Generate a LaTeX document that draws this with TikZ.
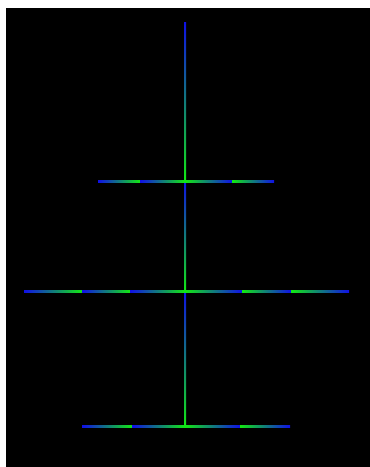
\documentclass[tikz,border=0pt]{standalone}
\usepackage{xcolor}
\usepackage{tikz}
\usetikzlibrary{calc}
\definecolor{treeblue}{HTML}{1010E6}
\definecolor{treegreen}{HTML}{12E812}
\definecolor{treebg}{HTML}{000000}

\begin{document}
\begin{tikzpicture}[x=1pt, y=-1pt]
  \useasboundingbox (0,0) rectangle (370,467);
  \fill[white] (0,0) rectangle (370,467);
  \fill[treebg] (6,8) rectangle (370,467);
  % trunk, blue at top -> green at bottom
  \foreach \ya/\yb in {22/181,181/291,291/426}
    \shade[top color=treeblue, bottom color=treegreen] (184,\ya) rectangle (186,\yb);
  % left branches, blue outside -> green inside
  \foreach \y/\xa/\xb in {181/98/140,181/140/185,291/24/82,291/82/130,291/130/185,426/82/132,426/132/185}
    \shade[left color=treeblue, right color=treegreen] (\xa,\y-1) rectangle (\xb,\y+1);
  % right branches, green inside -> blue outside
  \foreach \y/\xa/\xb in {181/185/232,181/232/274,291/185/242,291/242/291,291/291/349,426/185/240,426/240/290}
    \shade[left color=treegreen, right color=treeblue] (\xa,\y-1) rectangle (\xb,\y+1);
\end{tikzpicture}
\end{document}
